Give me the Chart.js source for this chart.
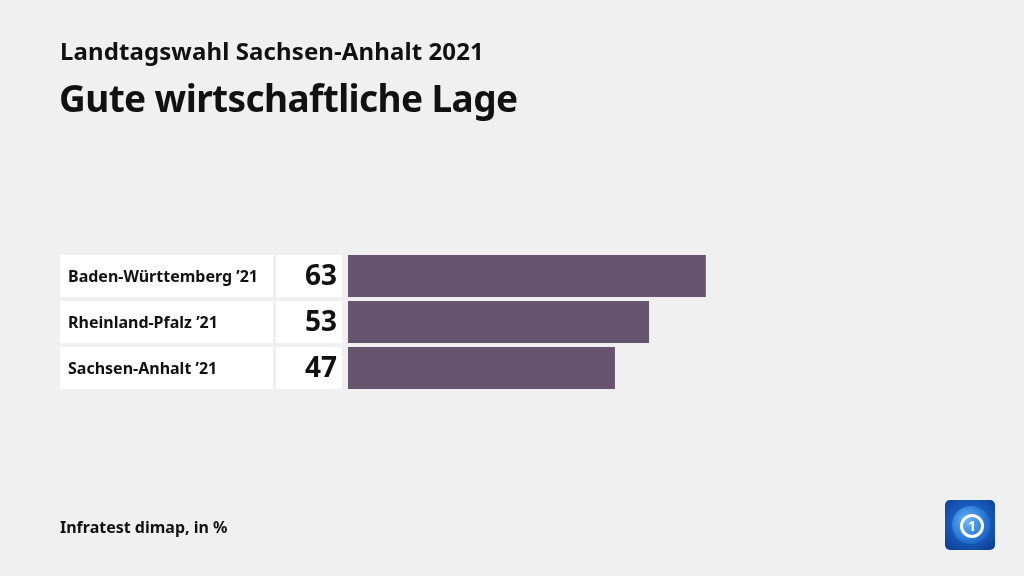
<!DOCTYPE html>
<html>
<head>
<meta charset="utf-8">
<script src="https://cdn.jsdelivr.net/npm/chart.js@4"></script>
<style>
  body { margin: 0; background: #f0f0f0; font-family: "Noto Sans", sans-serif; }
  #wrap { position: relative; width: 1024px; height: 576px; overflow: hidden; }
  #myChart { position: absolute; left: 0; top: 0; }
  .sub { position: absolute; left: 60px; top: 34px; font-size: 24px; font-weight: 700; color: #111; letter-spacing: 0.1px; }
  .title { position: absolute; left: 59px; top: 72px; font-size: 37px; font-weight: 700; color: #111; letter-spacing: -0.6px; }
  .foot { position: absolute; left: 60px; top: 516px; font-size: 16px; font-weight: 700; color: #111; }
  .logo { position: absolute; left: 945px; top: 500px; width: 50px; height: 50px; border-radius: 5px;
          background: radial-gradient(circle at 50% 45%, #3d8fe0 0%, #1a5fc0 45%, #0a3a8c 100%); }
  .logo .globe { position: absolute; left: 7px; top: 6px; width: 38px; height: 38px; border-radius: 50%;
          background: radial-gradient(circle at 40% 40%, #6ab8f5 0%, #2a78d6 55%, #0d4aa8 100%); }
  .logo .one { position: absolute; left: 15px; top: 14px; width: 18px; height: 18px; border-radius: 50%;
          border: 3px solid #fff; color: #fff; font-size: 14px; font-weight: 700; text-align: center; line-height: 18px; }
</style>
</head>
<body>
<div id="wrap">
  <canvas id="myChart" width="1024" height="576"></canvas>
  <div class="sub">Landtagswahl Sachsen-Anhalt 2021</div>
  <div class="title">Gute wirtschaftliche Lage</div>
  <div class="foot">Infratest dimap, in %</div>
  <div class="logo"><div class="globe"></div><div class="one">1</div></div>
</div>
<script>
var categories = ['Baden-Württemberg ’21', 'Rheinland-Pfalz ’21', 'Sachsen-Anhalt ’21'];
var values = [63, 53, 47];
var barColor = '#67546f';

// white label boxes and value numbers left of the bars
var labelBoxes = {
    id: 'labelBoxes',
    afterDatasetsDraw: function(chart) {
        var ctx = chart.ctx;
        var meta = chart.getDatasetMeta(0);
        ctx.save();
        meta.data.forEach(function(bar, i) {
            var h = bar.height;
            var top = bar.y - h / 2;
            ctx.fillStyle = '#ffffff';
            ctx.fillRect(60, top, 213, h);
            ctx.fillRect(276, top, 66, h);
            ctx.fillStyle = '#111111';
            ctx.textBaseline = 'middle';
            ctx.textAlign = 'left';
            ctx.font = '700 16px "Noto Sans"';
            ctx.fillText(categories[i], 68, bar.y + 1);
            ctx.textAlign = 'right';
            ctx.font = '700 28px "Noto Sans"';
            ctx.fillText(values[i], 337, bar.y + 1);
        });
        ctx.restore();
    }
};

const ctx = document.getElementById('myChart');
const myChart = new Chart(ctx, {
    type: 'bar',
    data: {
        labels: categories,
        datasets: [{
            data: values,
            backgroundColor: barColor,
            barPercentage: 0.913,
            categoryPercentage: 1
        }]
    },
    options: {
        indexAxis: 'y',
        responsive: false,
        animation: false,
        layout: { padding: { left: 348, right: 108, top: 253, bottom: 185 } },
        scales: {
            x: { display: false, min: 0, max: 100 },
            y: { display: false }
        },
        plugins: {
            legend: { display: false },
            tooltip: { enabled: false }
        }
    },
    plugins: [labelBoxes]
});
</script>
</body>
</html>
